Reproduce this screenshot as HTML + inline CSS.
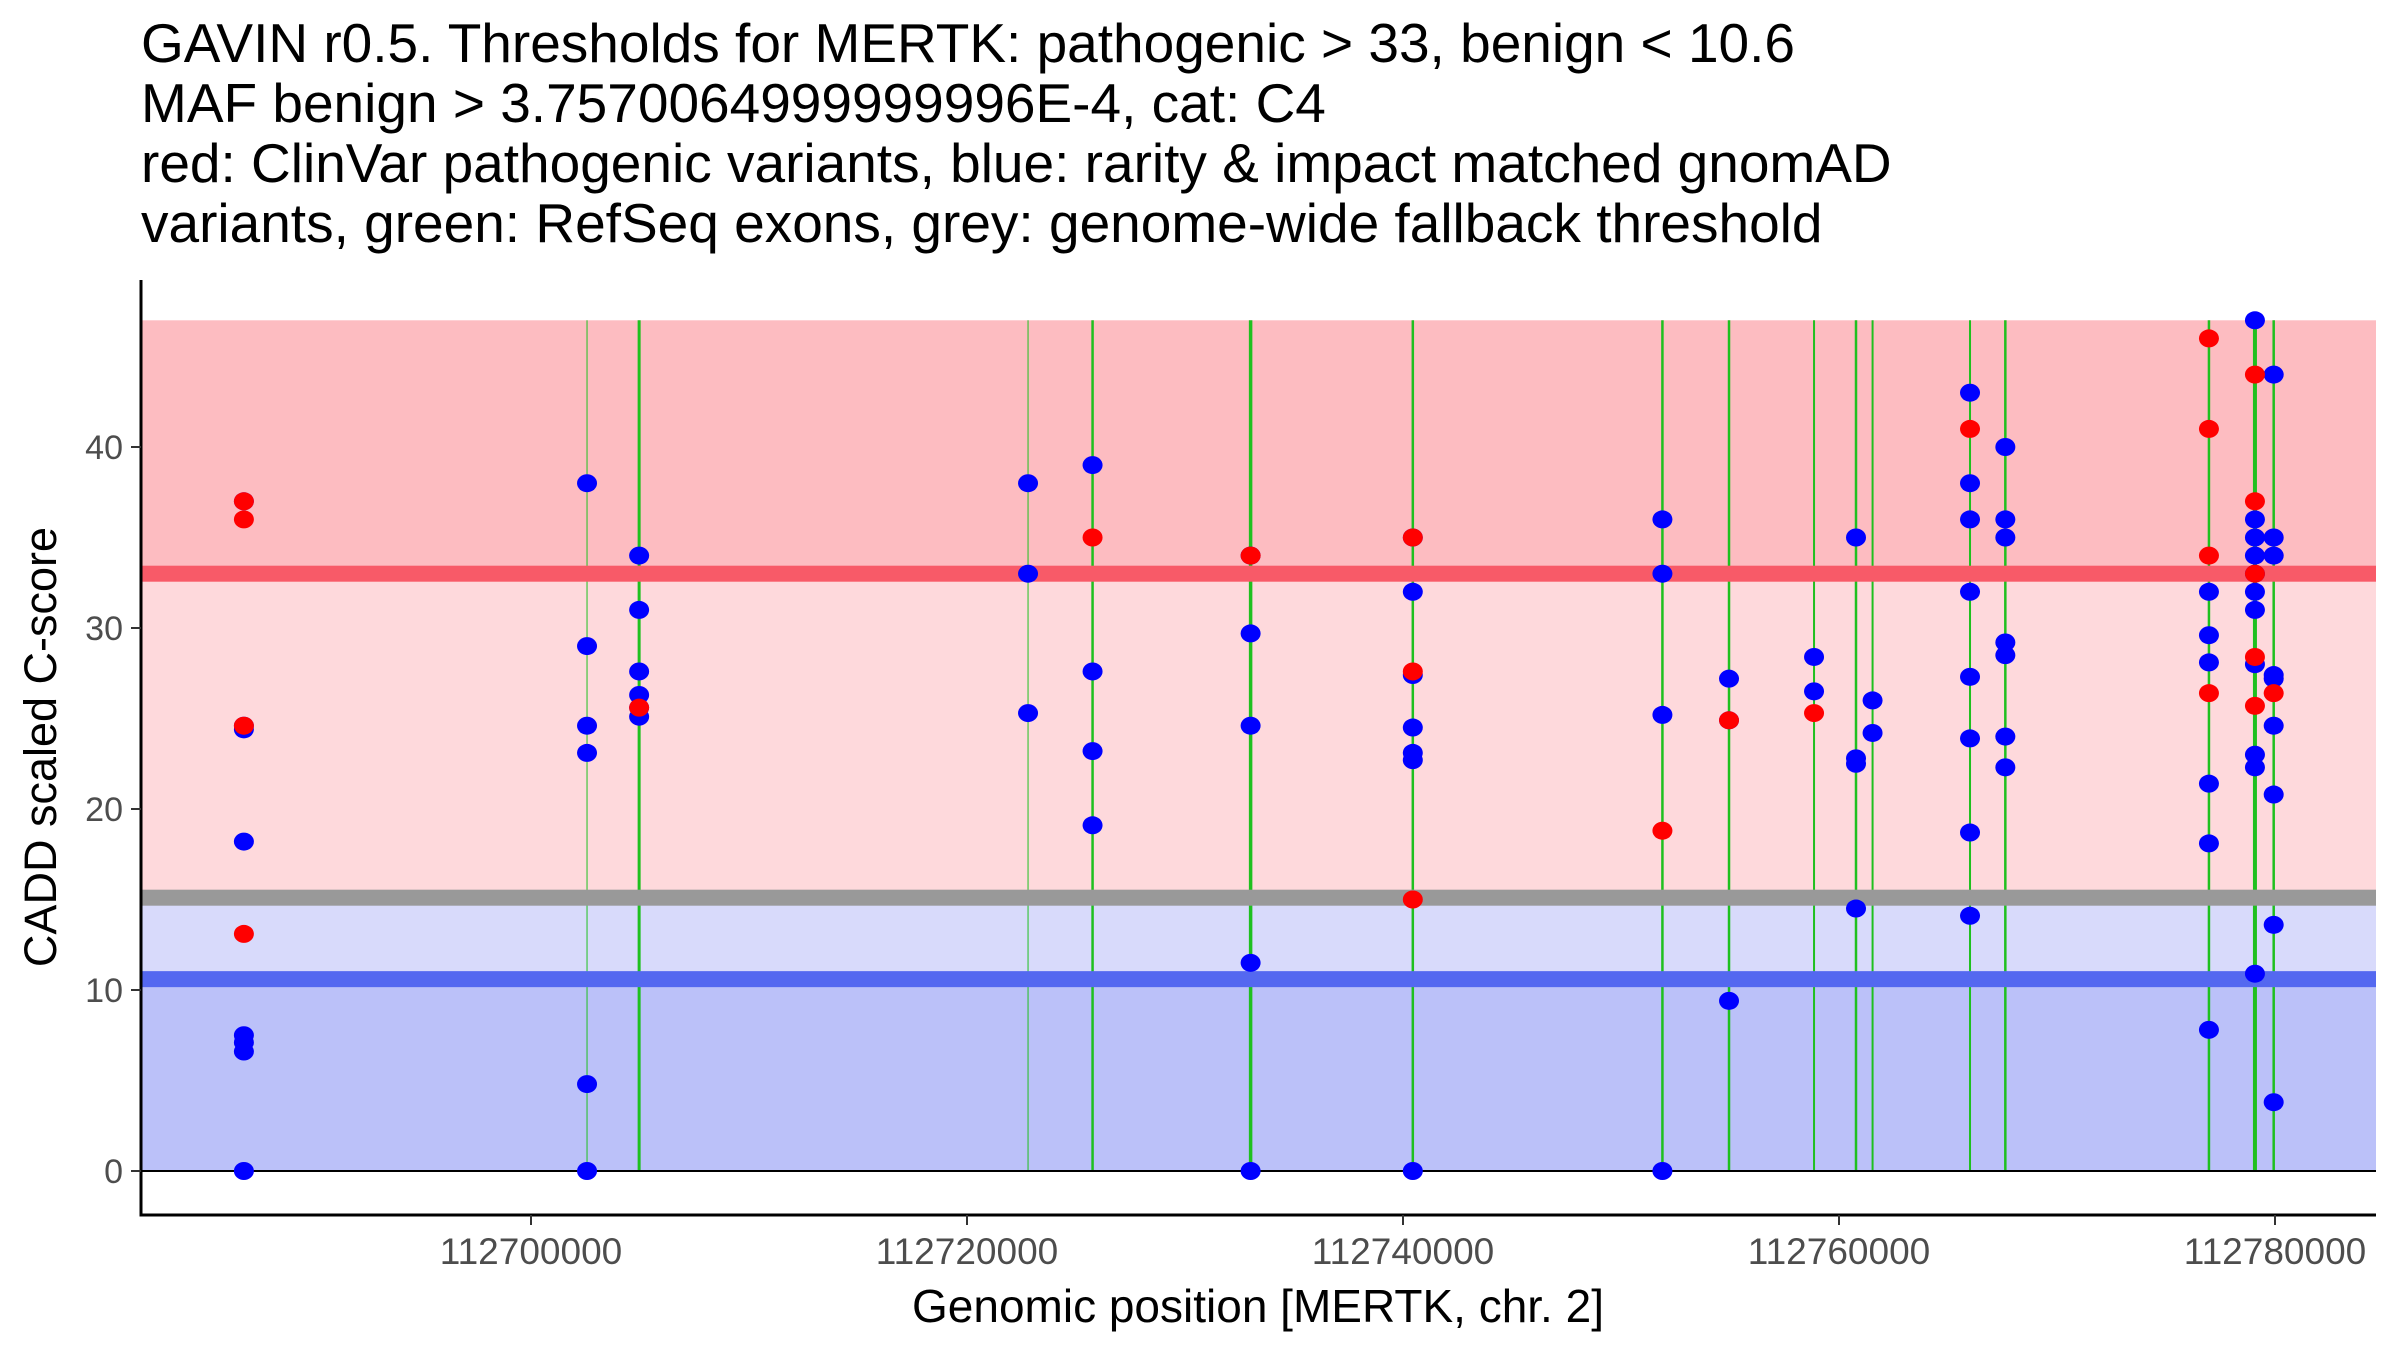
<!DOCTYPE html>
<html><head><meta charset="utf-8"><style>html,body{margin:0;padding:0;background:#fff}svg{display:block}</style></head>
<body>
<svg id="chart" width="2400" height="1350" viewBox="0 0 2400 1350" xmlns="http://www.w3.org/2000/svg" font-family="Liberation Sans, sans-serif">
<g font-size="55" fill="#000">
<text x="141" y="62">GAVIN r0.5. Thresholds for MERTK: pathogenic &gt; 33, benign &lt; 10.6</text>
<text x="141" y="122">MAF benign &gt; 3.7570064999999996E-4, cat: C4</text>
<text x="141" y="182">red: ClinVar pathogenic variants, blue: rarity &amp; impact matched gnomAD</text>
<text x="141" y="242">variants, green: RefSeq exons, grey: genome-wide fallback threshold</text>
</g>
<g id="bands"></g><g id="exons"></g><g id="lines"></g><g id="pts"></g><g id="axes"></g>
<text transform="translate(56,747) rotate(-90)" text-anchor="middle" font-size="45">CADD scaled C-score</text>
<text x="1258" y="1322" text-anchor="middle" font-size="46">Genomic position [MERTK, chr. 2]</text>
</svg>
<script>
const xTicks=[112700000,112720000,112740000,112760000,112780000];
const yTicks=[0,10,20,30,40];
const exonPos=[112702570,112704960,112722800,112725760,112733010,112740450,112751900,112754955,112758855,112760780,112761540,112766010,112767630,112776970,112779080,112779940];
const exonWidth=[1,3,1,2.5,3.5,2.5,2.5,2.5,2,2.5,2,2,2.5,2.5,4,2.5];
const A=112686830,B=112702570,C=112704960,D=112722800,E=112725760,F=112733010,G=112740450,H=112751900,I=112754955,J=112758855,K=112760780,M=112761540,N=112766010,O=112767630,P=112776970,Q=112779080,S=112779940;
const blueX=[A,A,A,A,A,A,A,A,
B,B,B,B,B,B,
C,C,C,C,C,C,
D,D,D,
E,E,E,E,
F,F,F,F,F,
G,G,G,G,G,G,G,
H,H,H,H,
I,I,I,
J,J,
K,K,K,K,
M,M,
N,N,N,N,N,N,N,N,
O,O,O,O,O,O,O,
P,P,P,P,P,P,
Q,Q,Q,Q,Q,Q,Q,Q,Q,Q,Q,
S,S,S,S,S,S,S,S,S];
const blueY=[37,24.6,24.4,18.2,7.1,7.5,6.6,0,
38,29,24.6,23.1,4.8,0,
34,31,27.6,26.3,25.6,25.1,
38,33,25.3,
39,27.6,23.2,19.1,
34,29.7,24.6,11.5,0,
35,32,27.4,24.5,23.1,22.7,0,
36,33,25.2,0,
27.2,24.9,9.4,
28.4,26.5,
35,22.8,22.5,14.5,
26,24.2,
43,38,36,32,27.3,23.9,18.7,14.1,
40,36,35,29.2,28.5,24,22.3,
32,29.6,28.1,21.4,18.1,7.8,
47,36,35,34,33,32,31,28,23,22.3,10.9,
44,35,34,27.4,27.2,24.6,20.8,13.6,3.8];
const redX=[A,A,A,A,C,E,F,G,G,G,H,I,J,N,P,P,P,P,Q,Q,Q,Q,Q,S];
const redY=[37,36,24.6,13.1,25.6,35,34,35,27.6,15,18.8,24.9,25.3,41,46,41,34,26.4,44,37,33,28.4,25.7,26.4];
const thresholds=[33,15.1,10.6];
const NS='http://www.w3.org/2000/svg';
function sx(v){return 2275+(v-112780000)*436/20000;}
function sy(v){return 1171-v*18.1;}
function mk(t,a,p){const e=document.createElementNS(NS,t);for(const k in a)e.setAttribute(k,a[k]);p.appendChild(e);return e;}
const L=141,R=2376;
const bands=document.getElementById('bands');
let b;
b=mk('rect',{x:L,y:sy(47),width:R-L,height:sy(thresholds[0])-sy(47),fill:'#fdbcc1'},bands);


b=mk('rect',{x:L,y:sy(thresholds[0]),width:R-L,height:sy(thresholds[1])-sy(thresholds[0]),fill:'#fed9dc'},bands);


b=mk('rect',{x:L,y:sy(thresholds[1]),width:R-L,height:sy(thresholds[2])-sy(thresholds[1]),fill:'#d8dafb'},bands);


b=mk('rect',{x:L,y:sy(thresholds[2]),width:R-L,height:sy(0)-sy(thresholds[2]),fill:'#bbc1f9'},bands);


const ex=document.getElementById('exons');
exonPos.forEach((p,i)=>{const l=mk('line',{x1:sx(p),x2:sx(p),y1:sy(47),y2:sy(0),stroke:'#1fc01f','stroke-width':exonWidth[i]},ex);

});
const ln=document.getElementById('lines');
const tcol=['#f85a68','#999999','#5468f0'];
const tnames=['pathogenic-threshold','fallback-threshold','benign-threshold'];
thresholds.forEach((t,i)=>{const l=mk('rect',{x:L,y:sy(t)-8,width:R-L,height:16,fill:tcol[i]},ln);

});
const z=mk('line',{x1:L,x2:R,y1:sy(0),y2:sy(0),stroke:'#000','stroke-width':2},ln);


const pts=document.getElementById('pts');
blueX.forEach((x,i)=>{const c=mk('ellipse',{cx:sx(x),cy:sy(blueY[i]),rx:10,ry:9,fill:'#0000ff'},pts);

});
redX.forEach((x,i)=>{const c=mk('ellipse',{cx:sx(x),cy:sy(redY[i]),rx:10,ry:9,fill:'#ff0000'},pts);

});
const ax=document.getElementById('axes');
let a=mk('line',{x1:L,x2:L,y1:280,y2:1216,stroke:'#000','stroke-width':3},ax);


a=mk('line',{x1:L-1.5,x2:R,y1:1215,y2:1215,stroke:'#000','stroke-width':3},ax);


yTicks.forEach(v=>{const t=mk('line',{x1:L-10,x2:L,y1:sy(v),y2:sy(v),stroke:'#333','stroke-width':2},ax);


const s=mk('text',{x:L-18,y:sy(v)+12,'text-anchor':'end','font-size':34,fill:'#4d4d4d'},ax);s.textContent=v;

});
xTicks.forEach(v=>{const t=mk('line',{x1:sx(v),x2:sx(v),y1:1215,y2:1225,stroke:'#333','stroke-width':2},ax);


const s=mk('text',{x:sx(v),y:1264,'text-anchor':'middle','font-size':37,fill:'#4d4d4d'},ax);s.textContent=v;

});
</script>
</body></html>
